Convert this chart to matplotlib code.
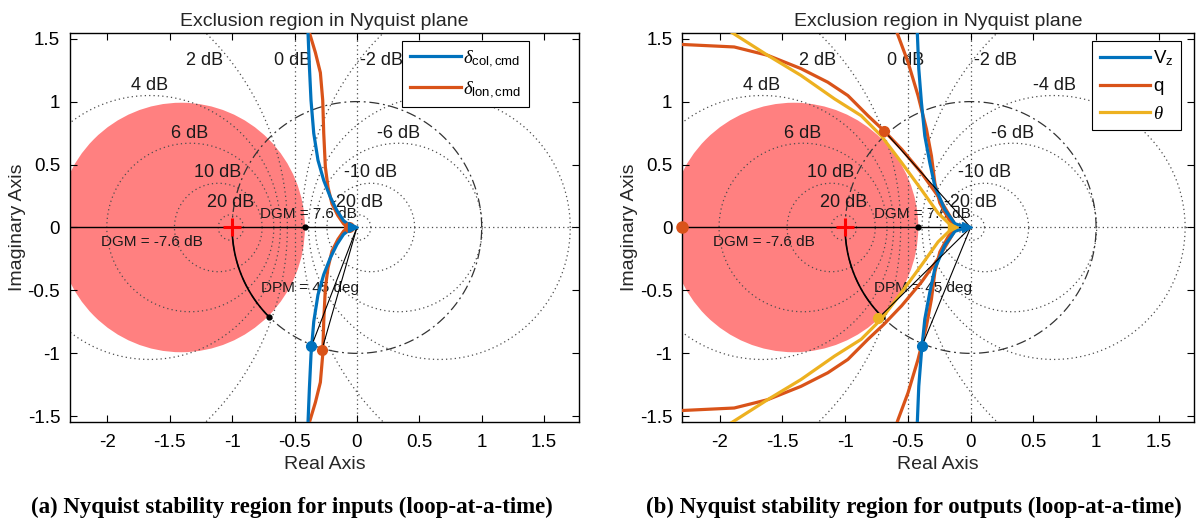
import numpy as np
import matplotlib.pyplot as plt
from matplotlib.patches import Circle

plt.rcParams['font.family'] = ['Liberation Sans', 'DejaVu Sans']
plt.rcParams['axes.unicode_minus'] = False
plt.rcParams['mathtext.fontset'] = 'custom'
plt.rcParams['mathtext.rm'] = 'Liberation Sans'
plt.rcParams['mathtext.it'] = 'Liberation Serif:italic'

BLUE = '#0072BD'
ORANGE = '#D95319'
YELLOW = '#EDB120'

# axes / grid
x_ticks = [-2, -1.5, -1, -0.5, 0, 0.5, 1, 1.5]
y_ticks = [-1.5, -1, -0.5, 0, 0.5, 1, 1.5]
grid_db = [20, 10, 6, 4, 2, -2, -4, -6, -10, -20]
label_txt = ['20 dB', '10 dB', '6 dB', '4 dB', '2 dB', '0 dB', '-2 dB', '-4 dB', '-6 dB', '-10 dB', '-20 dB']
label_re = [-1.01, -1.117, -1.34, -1.665, -1.22, -0.517, 0.2, 0.665, 0.336, 0.108, 0.0]
label_im = [0.2, 0.44, 0.75, 1.13, 1.33, 1.33, 1.33, 1.13, 0.75, 0.44, 0.2]

# disk margins
dgm_db = 7.6
dpm_deg = 45

# (a) inputs, upper branch (top -> origin), lower branch is the mirror
col_re = [-0.395, -0.392, -0.381, -0.368, -0.346, -0.312, -0.266, -0.213, -0.16, -0.107, -0.053, -0.008]
col_im = [1.65, 1.548, 1.28, 1.01, 0.748, 0.534, 0.374, 0.241, 0.134, 0.054, 0.014, 0.0]
lon_re = [-0.40, -0.381, -0.333, -0.293, -0.274, -0.266, -0.253, -0.232, -0.2, -0.152, -0.106, -0.067]
lon_im = [1.65, 1.548, 1.39, 1.23, 1.01, 0.748, 0.481, 0.321, 0.188, 0.094, 0.028, 0.0]
in_pm_re = [-0.365, -0.28]
in_pm_im = [-0.945, -0.97]

# (b) outputs
vz_re = [-0.43, -0.424, -0.413, -0.392, -0.365, -0.325, -0.285, -0.205, -0.125, -0.03]
vz_im = [1.65, 1.53, 1.26, 0.994, 0.728, 0.514, 0.328, 0.141, 0.03, 0.0]
qa_re = [-2.6, -2.324, -1.884, -1.618, -1.352, -1.138, -0.978, -0.818, -0.69, -0.549, -0.392, -0.259, -0.179, -0.11]
qa_im = [1.46, 1.455, 1.434, 1.368, 1.262, 1.154, 1.048, 0.888, 0.768, 0.621, 0.434, 0.248, 0.114, 0.0]
qb_re = [-0.62, -0.579, -0.499, -0.419, -0.352, -0.312, -0.285, -0.245, -0.179, -0.125]
qb_im = [1.65, 1.528, 1.314, 1.048, 0.782, 0.568, 0.354, 0.194, 0.074, 0.0]
th_re = [-2.03, -1.87, -1.618, -1.352, -1.085, -0.872, -0.712, -0.549, -0.392, -0.259, -0.14]
th_im = [1.63, 1.528, 1.368, 1.208, 1.022, 0.888, 0.728, 0.514, 0.3, 0.114, 0.0]
out_pm_re = [-0.387, -0.69, -0.735]
out_pm_im = [-0.94, 0.768, -0.72]


def mirror(re, im):
    re = np.asarray(re)
    im = np.asarray(im)
    return (np.concatenate([re, re[::-1][1:]]),
            np.concatenate([im, -im[::-1][1:]]))


def draw_plane(ax):
    g = 10 ** (dgm_db / 20)
    c, r = -(g + 1 / g) / 2, (g - 1 / g) / 2
    ax.add_patch(Circle((c, 0), r, fc=(1, 0.5, 0.5), ec='none', zorder=0))
    t = np.linspace(0, 2 * np.pi, 500)
    dot = dict(ls=(0, (1, 2.5)), color='0.3', lw=0.9, zorder=1)
    for db in grid_db:
        M = 10 ** (db / 20)
        xc = -M ** 2 / (M ** 2 - 1)
        rc = abs(M / (M ** 2 - 1))
        ax.plot(xc + rc * np.cos(t), rc * np.sin(t), **dot)
    ax.axvline(-0.5, **dot)
    ax.axvline(0, **dot)
    ax.plot([0, 2], [0, 0], **dot)
    # unit circle
    ax.plot(np.cos(t), np.sin(t), ls=(0, (8, 3, 1.5, 3)), color='0.2', lw=0.9, zorder=1)
    # DGM line and DPM arc
    ax.plot([-g, 0], [0, 0], color='k', lw=1.0, zorder=2)
    a = np.radians(np.linspace(180, 180 + dpm_deg, 60))
    ax.plot(np.cos(a), np.sin(a), color='k', lw=1.2, zorder=2)
    ax.plot([-1 / g, np.cos(a[-1])], [0, np.sin(a[-1])], 'o', color='k', ms=3.5, zorder=3)
    ax.plot(-1, 0, '+', color='red', ms=13, mew=2.2, zorder=3)
    for s, x, y in zip(label_txt, label_re, label_im):
        ax.text(x, y, s, ha='center', va='center', fontsize=13, color='#1a1a1a', zorder=2)
    ax.text(-0.386, 0.105, f'DGM = {dgm_db} dB', ha='center', va='center', fontsize=11, color='#1a1a1a', zorder=2)
    ax.text(-1.644, -0.113, f'DGM = -{dgm_db} dB', ha='center', va='center', fontsize=11, color='#1a1a1a', zorder=2)
    ax.text(-0.38, -0.479, f'DPM = {dpm_deg} deg', ha='center', va='center', fontsize=11, color='#1a1a1a', zorder=2)


def finish(ax, anchor):
    ax.set_xlim(-2.3, 1.78)
    ax.set_ylim(-1.545, 1.545)
    ax.set_xticks(x_ticks)
    ax.set_yticks(y_ticks)
    ax.set_xticklabels([f'{v:g}' for v in x_ticks])
    ax.set_yticklabels([f'{v:g}' for v in y_ticks])
    ax.tick_params(direction='in', top=True, right=True, length=5, labelsize=13.5, pad=9)
    ax.tick_params(axis='y', pad=7)
    for sp in ax.spines.values():
        sp.set_linewidth(1.0)
    ax.set_xlabel('Real Axis', fontsize=14, color='#262626', labelpad=3)
    ax.set_ylabel('Imaginary Axis', fontsize=14, color='#262626', labelpad=1)
    ax.set_title('Exclusion region in Nyquist plane', fontsize=14, color='#262626', pad=5)
    leg = ax.legend(loc='upper right', bbox_to_anchor=anchor, fontsize=13.5, handlelength=2.7,
                    handletextpad=0.15, borderpad=0.4, labelspacing=0.55, fancybox=False,
                    framealpha=1, edgecolor='k', borderaxespad=0)
    leg.get_frame().set_linewidth(0.8)
    leg.set_zorder(10)


fig = plt.figure(figsize=(12.02, 5.22), dpi=100)
ax1 = fig.add_axes([0.0582, 0.1916, 0.4235, 0.7452])
ax2 = fig.add_axes([0.5674, 0.1916, 0.4259, 0.7452])

# ---- (a) inputs
draw_plane(ax1)
x, y = mirror(col_re, col_im)
ax1.plot(x, y, color=BLUE, lw=2.3, zorder=5, label=r'$\delta_{\mathrm{col,cmd}}$')
x, y = mirror(lon_re, lon_im)
ax1.plot(x, y, color=ORANGE, lw=2.3, zorder=4, label=r'$\delta_{\mathrm{lon,cmd}}$')
for px, py, col in zip(in_pm_re, in_pm_im, [BLUE, ORANGE]):
    ax1.plot([0, px], [0, py], color='k', lw=0.8, zorder=6)
    ax1.plot(px, py, 'o', color=col, ms=7, zorder=7)
ax1.plot(lon_re[-1], 0, 'o', color=ORANGE, ms=7, zorder=7)
ax1.plot(col_re[-1] - 0.02, 0, '>', color=BLUE, ms=7, zorder=7)
finish(ax1, (0.901, 0.98))

# ---- (b) outputs
draw_plane(ax2)
x, y = mirror(vz_re, vz_im)
ax2.plot(x, y, color=BLUE, lw=2.3, zorder=5, label=r'V$_{\mathrm{z}}$')
x, y = mirror(qa_re, qa_im)
ax2.plot(x, y, color=ORANGE, lw=2.3, zorder=4, label='q')
x, y = mirror(qb_re, qb_im)
ax2.plot(x, y, color=ORANGE, lw=2.3, zorder=4)
x, y = mirror(th_re, th_im)
ax2.plot(x, y, color=YELLOW, lw=2.3, zorder=4, label=r'$\theta$')
for px, py, col in zip(out_pm_re, out_pm_im, [BLUE, ORANGE, YELLOW]):
    ax2.plot([0, px], [0, py], color='k', lw=0.8, zorder=6)
    ax2.plot(px, py, 'o', color=col, ms=7, zorder=7)
ax2.plot(-2.3, 0, 'o', color=ORANGE, ms=8, zorder=7, clip_on=False)
ax2.plot(th_re[-1], 0, '>', color=YELLOW, ms=7, zorder=7)
ax2.plot(vz_re[-1], 0, '>', color=BLUE, ms=7, zorder=7)
finish(ax2, (0.975, 0.98))

cap = dict(ha='center', va='center', fontsize=16.5, fontweight='bold', family='Liberation Serif')
fig.text(292 / 1202, 1 - 507 / 522, '(a) Nyquist stability region for inputs (loop-at-a-time)', **cap)
fig.text(914 / 1202, 1 - 507 / 522, '(b) Nyquist stability region for outputs (loop-at-a-time)', **cap)

fig.savefig('out.png', dpi=100)
